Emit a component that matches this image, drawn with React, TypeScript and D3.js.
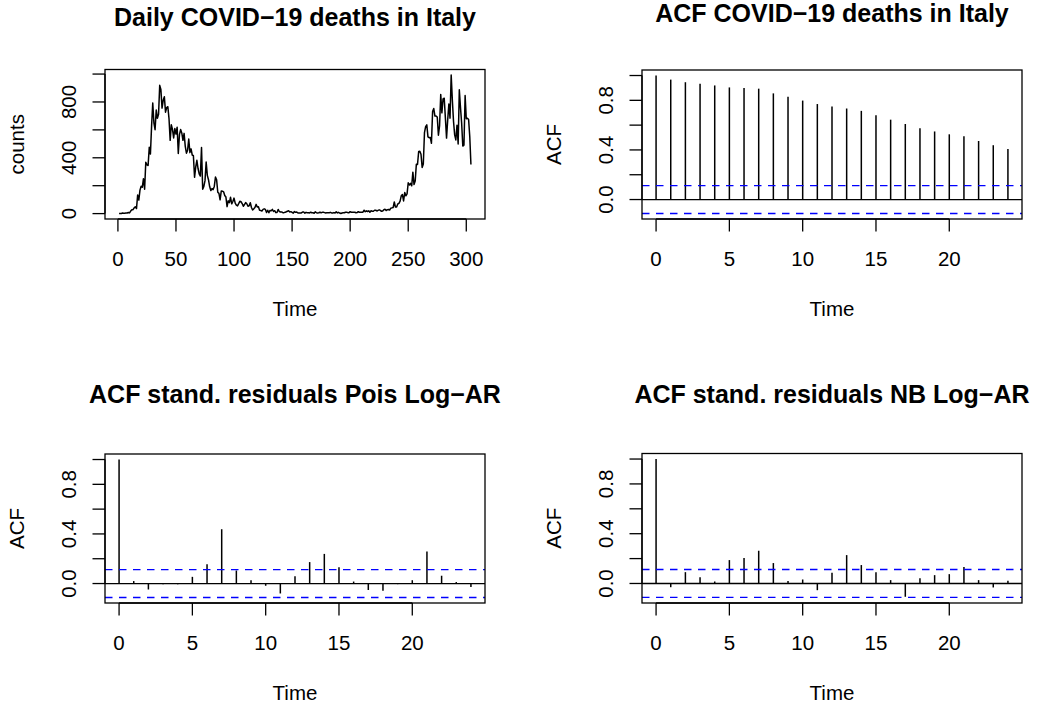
import React from "react";
import * as d3 from "d3";

// Daily COVID-19 deaths in Italy, 21 Feb 2020 – 20 Dec 2020 (t = 1 … 304)
const deathsFeb = [1, 1, 1, 4, 3, 2, 5, 4, 8];
const deathsMar = [5, 18, 27, 28, 41, 49, 36, 133, 97, 168, 196, 189, 250, 175, 368, 349, 345, 475, 427, 627, 793, 651, 601, 743, 683, 712, 919, 889, 756, 812, 837];
const deathsApr = [727, 760, 766, 681, 525, 636, 604, 542, 610, 570, 619, 431, 566, 602, 578, 525, 575, 482, 433, 454, 534, 437, 464, 420, 415, 260, 333, 382, 323, 285];
const deathsMay = [269, 474, 174, 195, 236, 369, 274, 243, 194, 165, 179, 172, 195, 262, 242, 153, 145, 99, 162, 161, 156, 130, 119, 50, 92, 78, 117, 70, 87, 111, 75];
const deathsJun = [60, 55, 71, 88, 85, 72, 53, 65, 79, 71, 53, 56, 78, 44, 26, 34, 43, 66, 47, 49, 24, 23, 18, 30, 34, 30, 8, 24, 6, 23];
const deathsJul = [21, 30, 15, 21, 7, 8, 30, 15, 12, 12, 7, 7, 9, 13, 17, 20, 11, 14, 9, 3, 15, 9, 11, 5, 5, 5, 5, 11, 11, 3, 9];
const deathsAug = [6, 6, 5, 10, 6, 6, 3, 13, 6, 4, 6, 10, 6, 9, 9, 7, 4, 7, 6, 6, 9, 5, 4, 7, 4, 13, 5, 9, 4, 1, 4];
const deathsSep = [6, 6, 10, 10, 7, 7, 14, 10, 10, 10, 10, 6, 7, 14, 9, 9, 10, 10, 24, 14, 20, 15, 20, 10, 20, 17, 17, 24, 24, 19];
const deathsOct = [23, 27, 23, 16, 18, 28, 31, 22, 28, 29, 26, 39, 41, 43, 83, 47, 47, 69, 73, 89, 127, 136, 91, 151, 128, 141, 221, 205, 217, 199, 297];
const deathsNov = [208, 233, 353, 352, 445, 446, 425, 331, 356, 580, 623, 636, 550, 544, 546, 504, 731, 753, 699, 699, 692, 562, 630, 853, 722, 822, 827, 686, 541, 672];
const deathsDec = [785, 684, 993, 814, 662, 564, 528, 634, 499, 887, 761, 649, 484, 491, 846, 680, 683, 674, 553, 352];

const deaths = [
  ...deathsFeb, ...deathsMar, ...deathsApr, ...deathsMay, ...deathsJun, ...deathsJul,
  ...deathsAug, ...deathsSep, ...deathsOct, ...deathsNov, ...deathsDec,
];

// Autocorrelations, lags 0 … 24
const acfDeaths = [1.0, 0.967, 0.946, 0.934, 0.92, 0.904, 0.899, 0.894, 0.856, 0.829, 0.798, 0.77, 0.751, 0.734, 0.715, 0.679, 0.644, 0.609, 0.575, 0.549, 0.526, 0.51, 0.472, 0.438, 0.407];
const acfPois = [1.0, 0.02, -0.048, -0.005, -0.006, 0.054, 0.155, 0.438, 0.105, 0.027, -0.018, -0.08, 0.059, 0.173, 0.239, 0.131, 0.016, -0.052, -0.059, -0.005, 0.027, 0.259, 0.063, 0.012, -0.027];
const acfNB = [1.0, -0.03, 0.091, 0.051, 0.016, 0.188, 0.204, 0.263, 0.164, 0.019, 0.032, -0.054, 0.086, 0.228, 0.148, 0.091, 0.027, -0.107, 0.043, 0.067, 0.075, 0.132, 0.027, -0.032, 0.021];

// 95% white-noise band
const ciBound = 0.1124;

const timeTicks = [0, 50, 100, 150, 200, 250, 300];
const countTicks = [0, 200, 400, 600, 800, 1000];
const countTickLabels = [0, 400, 800];
const lagTicks = [0, 5, 10, 15, 20];
const acfTicks = [0, 0.2, 0.4, 0.6, 0.8, 1.0];
const acfTickLabels = [0, 0.4, 0.8];

const FONT = "'Liberation Sans', Arial, Helvetica, sans-serif";
const AXIS_FS = 20.5;
const TITLE_FS = 25;
const TICK_LEN = 12.5;
const LW = 1.3;

type Box = { x0: number; x1: number; y0: number; y1: number };

// R-style 4% padding on each side of a data range
const pad = (lo: number, hi: number): [number, number] => {
  const d = (hi - lo) * 0.04;
  return [lo - d, hi + d];
};

type PanelProps = {
  box: Box;
  title: string;
  titleY: number;
  yLabel: string;
  x: d3.ScaleLinear<number, number>;
  y: d3.ScaleLinear<number, number>;
  xTicks: number[];
  yTicks: number[];
  yTickLabels: number[];
  yFormat: (v: number) => string;
  children?: React.ReactNode;
};

function Panel({ box, title, titleY, yLabel, x, y, xTicks, yTicks, yTickLabels, yFormat, children }: PanelProps) {
  const cx = (box.x0 + box.x1) / 2;
  const cy = (box.y0 + box.y1) / 2;
  const xFirst = x(xTicks[0]);
  const xLast = x(xTicks[xTicks.length - 1]);
  const yFirst = y(yTicks[0]);
  const yLast = y(yTicks[yTicks.length - 1]);
  const clipId = `clip-${Math.round(box.x0)}-${Math.round(box.y0)}`;
  return (
    <g>
      <defs>
        <clipPath id={clipId}>
          <rect x={box.x0} y={box.y0} width={box.x1 - box.x0} height={box.y1 - box.y0} />
        </clipPath>
      </defs>
      <text x={cx} y={titleY} textAnchor="middle" fontFamily={FONT} fontSize={TITLE_FS} fontWeight="bold">
        {title}
      </text>
      <g clipPath={`url(#${clipId})`}>{children}</g>
      <rect x={box.x0} y={box.y0} width={box.x1 - box.x0} height={box.y1 - box.y0} fill="none" stroke="#000" strokeWidth={LW} />
      {/* bottom axis */}
      <line x1={xFirst} x2={xLast} y1={box.y1} y2={box.y1} stroke="#000" strokeWidth={LW} />
      {xTicks.map((t) => (
        <g key={`xt${t}`}>
          <line x1={x(t)} x2={x(t)} y1={box.y1} y2={box.y1 + TICK_LEN} stroke="#000" strokeWidth={LW} />
          <text x={x(t)} y={box.y1 + 46.5} textAnchor="middle" fontFamily={FONT} fontSize={AXIS_FS}>
            {t}
          </text>
        </g>
      ))}
      <text x={cx} y={box.y1 + 96.5} textAnchor="middle" fontFamily={FONT} fontSize={AXIS_FS}>
        Time
      </text>
      {/* left axis */}
      <line x1={box.x0} x2={box.x0} y1={yFirst} y2={yLast} stroke="#000" strokeWidth={LW} />
      {yTicks.map((t) => (
        <line key={`yt${t}`} x1={box.x0 - TICK_LEN} x2={box.x0} y1={y(t)} y2={y(t)} stroke="#000" strokeWidth={LW} />
      ))}
      {yTickLabels.map((t) => (
        <text
          key={`yl${t}`}
          transform={`translate(${box.x0 - 29.5},${y(t)}) rotate(-90)`}
          textAnchor="middle"
          fontFamily={FONT}
          fontSize={AXIS_FS}
        >
          {yFormat(t)}
        </text>
      ))}
      <text
        transform={`translate(${box.x0 - 81},${cy}) rotate(-90)`}
        textAnchor="middle"
        fontFamily={FONT}
        fontSize={AXIS_FS}
      >
        {yLabel}
      </text>
    </g>
  );
}

function AcfPanel({ box, title, titleY, values }: { box: Box; title: string; titleY: number; values: number[] }) {
  const lags = values.map((_, i) => i);
  const x = d3.scaleLinear().domain(pad(0, lags.length - 1)).range([box.x0, box.x1]);
  const lo = Math.min(-ciBound, d3.min(values) as number);
  const hi = Math.max(ciBound, d3.max(values) as number);
  const y = d3.scaleLinear().domain(pad(lo, hi)).range([box.y1, box.y0]);
  const fmt = d3.format(".1f");
  return (
    <Panel
      box={box}
      title={title}
      titleY={titleY}
      yLabel="ACF"
      x={x}
      y={y}
      xTicks={lagTicks}
      yTicks={acfTicks}
      yTickLabels={acfTickLabels}
      yFormat={(v) => fmt(v)}
    >
      <line x1={box.x0} x2={box.x1} y1={y(0)} y2={y(0)} stroke="#000" strokeWidth={LW} />
      {values.map((v, i) => (
        <line key={i} x1={x(lags[i])} x2={x(lags[i])} y1={y(0)} y2={y(v)} stroke="#000" strokeWidth={1.5} />
      ))}
      {[ciBound, -ciBound].map((c) => (
        <line
          key={c}
          x1={box.x0}
          x2={box.x1}
          y1={y(c)}
          y2={y(c)}
          stroke="#0000FF"
          strokeWidth={LW}
          strokeDasharray="7.5,6.5"
        />
      ))}
    </Panel>
  );
}

function SeriesPanel({ box }: { box: Box }) {
  const t = deaths.map((_, i) => i + 1);
  const x = d3.scaleLinear().domain(pad(1, deaths.length)).range([box.x0, box.x1]);
  const y = d3
    .scaleLinear()
    .domain(pad(d3.min(deaths) as number, d3.max(deaths) as number))
    .range([box.y1, box.y0]);
  const path = d3
    .line<number>()
    .x((_, i) => x(t[i]))
    .y((d) => y(d))(deaths) as string;
  return (
    <Panel
      box={box}
      title="Daily COVID−19 deaths in Italy"
      titleY={26}
      yLabel="counts"
      x={x}
      y={y}
      xTicks={timeTicks}
      yTicks={countTicks}
      yTickLabels={countTickLabels}
      yFormat={(v) => String(v)}
    >
      <path d={path} fill="none" stroke="#000" strokeWidth={1.5} strokeLinejoin="round" />
    </Panel>
  );
}

export default function App() {
  return (
    <svg
      width={1039}
      height={709}
      viewBox="0 0 1039 709"
      style={{ position: "fixed", left: 0, top: 0, background: "#fff" }}
    >
      <rect width={1039} height={709} fill="#fff" />
      <SeriesPanel box={{ x0: 105, x1: 485, y0: 69.5, y1: 219 }} />
      <AcfPanel box={{ x0: 642, x1: 1022, y0: 70, y1: 219 }} title="ACF COVID−19 deaths in Italy" titleY={21.7} values={acfDeaths} />
      <AcfPanel box={{ x0: 105, x1: 485, y0: 454, y1: 603 }} title="ACF stand. residuals Pois Log−AR" titleY={403.3} values={acfPois} />
      <AcfPanel box={{ x0: 642, x1: 1022, y0: 453.5, y1: 603 }} title="ACF stand. residuals NB Log−AR" titleY={403.3} values={acfNB} />
    </svg>
  );
}
